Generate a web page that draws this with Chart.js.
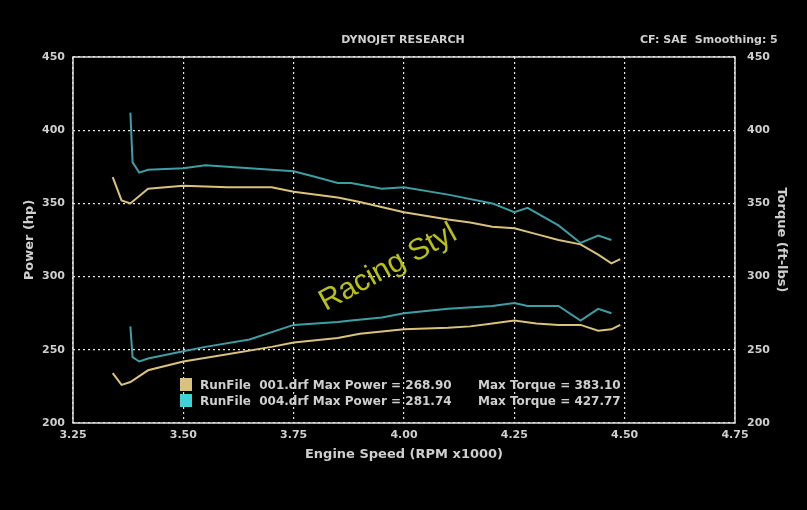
<!DOCTYPE html>
<html>
<head>
<script src="https://cdn.jsdelivr.net/npm/chart.js@4"></script>
<style>
  html, body { margin: 0; padding: 0; background: #000; }
</style>
</head>
<body>
<canvas id="dyno" width="807" height="510"></canvas>
<script>
// run 001 (yellow)
const rpm001 = [3.34, 3.36, 3.38, 3.42, 3.5, 3.6, 3.7, 3.75, 3.85, 3.9, 4.0, 4.1, 4.15, 4.2, 4.25, 4.3, 4.35, 4.4, 4.44, 4.47, 4.49];
const torque001 = [368, 352, 350, 360, 362, 361, 361, 358, 354, 351, 344, 339, 337, 334, 333, 329, 325, 322, 315, 309, 312];
const power001 = [234, 226, 228, 236, 242, 247, 252, 255, 258, 261, 264, 265, 266, 268, 270, 268, 267, 267, 263, 264, 267];
// run 004 (teal)
const rpm004 = [3.38, 3.385, 3.4, 3.42, 3.5, 3.55, 3.65, 3.75, 3.8, 3.85, 3.88, 3.95, 4.0, 4.1, 4.2, 4.25, 4.28, 4.35, 4.4, 4.44, 4.47];
const torque004 = [412, 378, 371, 373, 374, 376, 374, 372, 368, 364, 364, 360, 361, 356, 350, 344, 347, 335, 323, 328, 325];
const power004 = [266, 245, 242, 244, 249, 252, 257, 267, 268, 269, 270, 272, 275, 278, 280, 282, 280, 280, 270, 278, 275];

const legendRows = [
    ["RunFile  001.drf Max Power = 268.90", "Max Torque = 383.10"],
    ["RunFile  004.drf Max Power = 281.74", "Max Torque = 427.77"]
];

const yellow = '#d9c27c', teal = '#3f9ea3', txt = '#cfcfcf';
const pts = (xs, ys) => xs.map((x, i) => ({x: x, y: ys[i]}));

const extras = {
    id: 'extras',
    afterDraw(chart) {
        const c = chart.ctx, a = chart.chartArea;
        c.save();
        c.fillStyle = txt;
        c.font = 'bold 11px "DejaVu Sans"';
        c.textAlign = 'center';
        c.fillText('DYNOJET RESEARCH', 403, 43);
        c.textAlign = 'left';
        c.fillText('CF: SAE  Smoothing: 5', 640, 43);
        c.strokeStyle = '#e0e0e0';
        c.lineWidth = 1.5;
        c.strokeRect(a.left, a.top, a.right - a.left, a.bottom - a.top);
        // legend
        [yellow, '#3fd2d6'].forEach((col, i) => {
            const y = 378 + i * 16;
            c.fillStyle = col;
            c.fillRect(180, y, 12, 13);
            c.fillStyle = txt;
            c.font = 'bold 12px "DejaVu Sans"';
            c.fillText(legendRows[i][0], 200, y + 11);
            c.fillText(legendRows[i][1], 478, y + 11);
        });
        // watermark
        c.translate(392, 275);
        c.rotate(-0.5);
        c.fillStyle = '#b8c018';
        c.font = '30px "Liberation Sans"';
        c.textAlign = 'center';
        c.fillText('Racing Styl', 0, 0);
        c.restore();
    }
};

const tickFont = {family: 'DejaVu Sans', size: 11, weight: 'bold'};
const titleFont = {family: 'DejaVu Sans', size: 13, weight: 'bold'};
const grid = {color: '#e8e8e8', lineWidth: 1.2, drawTicks: false};
const border = {display: false, dash: [2, 3]};

new Chart(document.getElementById('dyno'), {
    type: 'line',
    data: {
        datasets: [
            {data: pts(rpm001, torque001), borderColor: yellow, yAxisID: 'y'},
            {data: pts(rpm001, power001), borderColor: yellow, yAxisID: 'y'},
            {data: pts(rpm004, torque004), borderColor: teal, yAxisID: 'y'},
            {data: pts(rpm004, power004), borderColor: teal, yAxisID: 'y'}
        ]
    },
    options: {
        responsive: false,
        animation: false,
        devicePixelRatio: 1,
        layout: {padding: {top: 57, left: 22, right: 18, bottom: 48}},
        elements: {point: {radius: 0}, line: {borderWidth: 2, tension: 0}},
        plugins: {legend: {display: false}, tooltip: {enabled: false}},
        scales: {
            x: {
                type: 'linear', min: 3.25, max: 4.75,
                ticks: {stepSize: 0.25, color: txt, font: tickFont, padding: 6,
                        callback: v => v.toFixed(2)},
                grid: grid, border: border,
                title: {display: true, text: 'Engine Speed (RPM x1000)', color: txt, font: titleFont, padding: 0},
                afterFit: s => { s.height = 39; }
            },
            y: {
                position: 'left', min: 200, max: 450,
                ticks: {stepSize: 50, color: txt, font: tickFont, padding: 8},
                grid: grid, border: border,
                title: {display: true, text: 'Power (hp)', color: txt, font: titleFont, padding: 0},
                afterFit: s => { s.width = 51; }
            },
            y2: {
                position: 'right', min: 200, max: 450,
                ticks: {stepSize: 50, color: txt, font: tickFont, padding: 4},
                grid: {display: false}, border: {display: false},
                title: {display: true, text: 'Torque (ft-lbs)', color: txt, font: titleFont, padding: 0},
                afterFit: s => { s.width = 54; }
            }
        }
    },
    plugins: [extras]
});
</script>
</body>
</html>
